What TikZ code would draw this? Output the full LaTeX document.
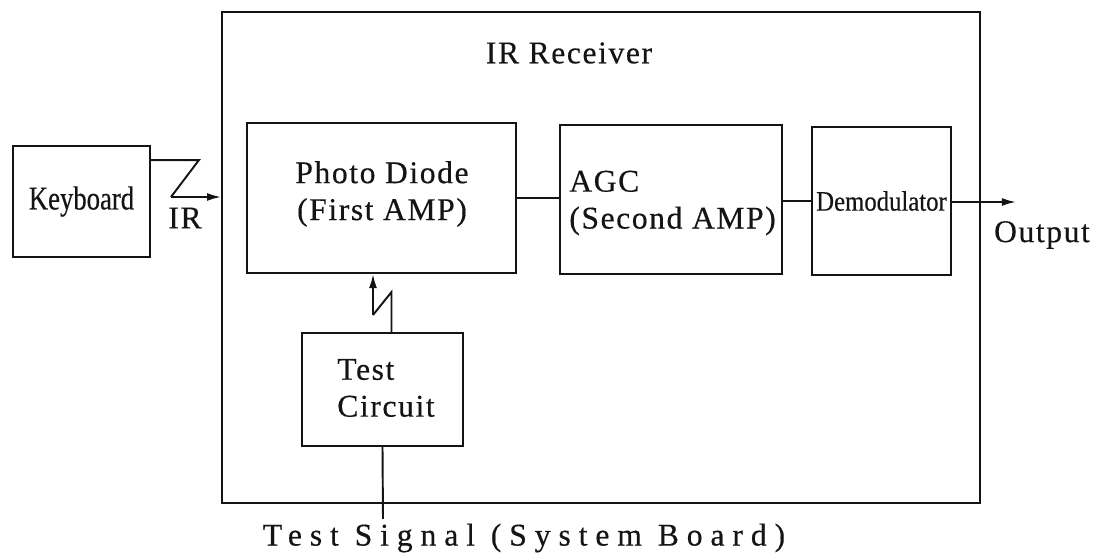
\documentclass[tikz,border=0pt]{standalone}
\usepackage{fontspec}
\setmainfont{Liberation Serif}[FakeBold=0.4]
\newfontfamily\narrowfont[FakeStretch=0.8,FakeBold=0.4]{Liberation Serif}
\usetikzlibrary{arrows.meta,positioning,calc}
\definecolor{ink}{RGB}{20,20,20}

\begin{document}
\begin{tikzpicture}[x=0.02cm,y=-0.02cm,>={Latex[length=8pt,width=4.5pt]}]
\tikzset{blk/.style={draw=ink,line width=1.1pt,inner sep=0pt,minimum width=#1},
  txt/.style={font=\fontsize{18}{21}\selectfont\addfontfeatures{LetterSpace=5},align=left,inner sep=0pt,text=ink},
  ntxt/.style={font=\fontsize{19}{22}\selectfont\narrowfont,inner sep=0pt,text=ink},
  arr/.style={->,line width=1.1pt,draw=ink},ln/.style={line width=1.1pt,draw=ink}}
\useasboundingbox (0,0) rectangle (1107,553);
% receiver frame and blocks
\node[blk=15.16cm,minimum height=9.82cm] (rx) at (601,257.5) {};
\node[txt] (rxlbl) at (569,53) {IR Receiver};
\node[blk=2.74cm,minimum height=2.22cm] (kbd) at (81.5,201.5) {};
\node[ntxt] at (kbd) {Keyboard};
\node[blk=5.38cm,minimum height=3cm] (pd) at (381.5,198) {};
\node[txt,align=center] at (382,194) {Photo Diode\\(First AMP)};
\node[blk=4.44cm,minimum height=2.98cm] (agc) at (671,199.5) {};
\node[txt,anchor=west] at (569,203) {AGC\\(Second AMP)};
\node[blk=2.78cm,minimum height=2.96cm] (dem) at (881.5,201) {};
\node[ntxt,font=\fontsize{16}{20}\selectfont\addfontfeatures{FakeStretch=0.88}] at (dem) {Demodulator};
\node[blk=3.22cm,minimum height=2.26cm] (tc) at (382.5,389.5) {};
\node[txt,anchor=west] at (337,388) {Test\\Circuit};
% free ends
\coordinate (outend) at (1016,202);
\coordinate (tsig) at (383,519);
\coordinate (irz) at (171,197);
\coordinate (tcz) at (373,315);
% labels
\node[txt] (irlbl) at (185,218) {IR};
\node[txt] (outlbl) at (1042,235) {Output};
\node[txt,font=\fontsize{18}{20}\selectfont\addfontfeatures{LetterSpace=25}] (tslbl) at (524,538) {Test Signal (System Board)};
% connectors
\draw[ln] (kbd.north east) ++(0,15) -- ++(48,0) -- (irz);
\draw[arr] (irz) -- (irz -| rx.west);
\draw[ln] (pd.east) -- (pd.east -| agc.west);
\draw[ln] (dem.west -| agc.east) -- (dem.west);
\draw[arr] (dem.east |- outend) -- (outend);
\draw[ln] (tc.north) ++(9,0) -- ++(0,-40) -- (tcz);
\draw[arr] (tcz) -- (tcz |- pd.south);
\draw[ln] (tc.south) -- (tsig);
\end{tikzpicture}
\end{document}
